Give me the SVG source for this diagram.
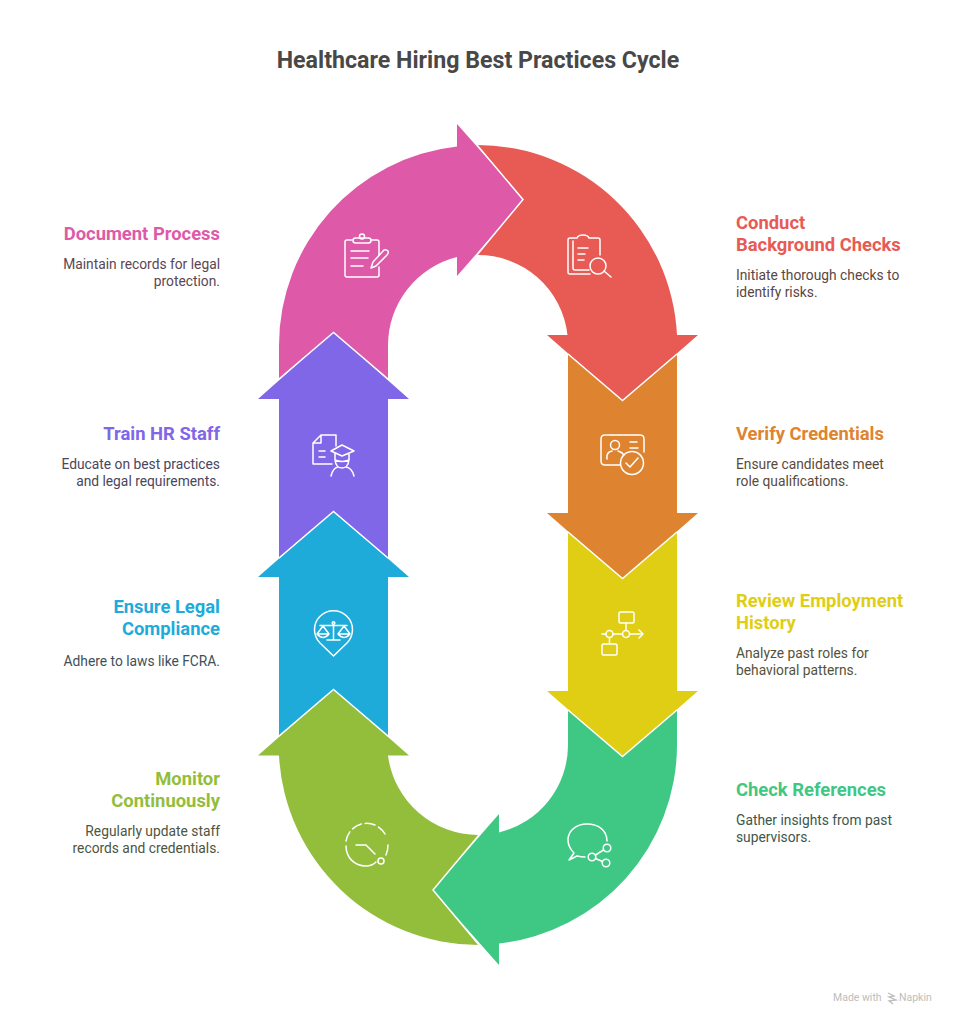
<svg xmlns="http://www.w3.org/2000/svg" width="956" height="1024" viewBox="0 0 956 1024">
<style>
text{font-family:Roboto,"Liberation Sans",sans-serif}
.title{font-size:23.200px;font-weight:700;fill:#484848;text-anchor:middle}
.h{font-size:18.400px;font-weight:700}
.b{font-size:13.800px}
.l{text-anchor:end}
.gap{fill:none;stroke:#fff;stroke-width:1.500;stroke-linejoin:miter}
.ic{fill:none;stroke:#fff;stroke-width:1.500;stroke-linecap:round;stroke-linejoin:round}
</style>
<rect width="956" height="1024" fill="#fff"/>
<text class="title" x="478" y="68">Healthcare Hiring Best Practices Cycle</text>
<g id="connectors">
<path id="seg-red" fill="#E85A54" d="M477 145A200 200 0 0 1 677 335H698L622.500 401L547 335H567.500A90 90 0 0 0 477 255L523 199.500Z"/>
<path id="seg-orange" fill="#DE8431" d="M568 354L622.500 400L677 354V513H698L622.500 579L547 513H568Z"/>
<path id="seg-yellow" fill="#E0CE15" d="M568 532L622.500 578L677 532V691H698L622.500 757L547 691H568Z"/>
<path id="seg-green" fill="#3FC784" d="M568 710L622.500 756L677 710V745A200 200 0 0 1 499 943.500V965L432.500 890L499 814V832.500A90 90 0 0 0 568 745Z"/>
<path id="seg-olive" fill="#93BE3B" d="M479 945A200 200 0 0 1 279 755.500H258L333.500 689L409 755.500H388A91 91 0 0 0 479 835L433 890Z"/>
<path id="seg-blue" fill="#1EABDA" d="M279 736L333.500 690L388 736V577H409L333.500 511L258 577H279Z"/>
<path id="seg-purple" fill="#8067E8" d="M279 558L333.500 512L388 558V399H409L333.500 332L258 399H279Z"/>
<path id="seg-pink" fill="#DE5AA8" d="M279 379L333.500 333L388 379V345A91 91 0 0 1 457 257V276L524 199.500L457 124V146.500A200 200 0 0 0 279 345Z"/>
<path class="gap" d="M477 145L523 199.500L477 255"/>
<path class="gap" d="M568 354L622.500 400.500L677 354"/>
<path class="gap" d="M568 532L622.500 578.500L677 532"/>
<path class="gap" d="M568 710L622.500 756.500L677 710"/>
<path class="gap" d="M479 835L433 890L479 945"/>
<path class="gap" d="M279 736L333.500 689.500L388 736"/>
<path class="gap" d="M279 558L333.500 511.500L388 558"/>
<path class="gap" d="M279 379L333.500 332.500L388 379"/>
</g>
<g id="node-document">
<g class="ic"><path d="M353 240H347Q345 240 345 242V275Q345 277 347 277H377Q379 277 379 275V267M379 255V242Q379 240 377 240H371"/><rect x="353" y="238" width="18" height="5" rx="2.500"/><circle cx="362" cy="236.500" r="2.500"/><path d="M351 251H369M351 258H368M351 266H363M371 268L373 262L384 250Q386 249 388 251Q389 253 387 255L376 266Z"/></g>
<text class="h l" x="220" y="240" fill="#DE5AA8">Document Process</text>
<text class="b l" fill="#5B4654"><tspan x="220" y="269">Maintain records for legal</tspan><tspan x="220" y="286">protection.</tspan></text>
</g>
<g id="node-background">
<g class="ic"><path d="M577 238H570Q568 238 568 240V272Q568 274 570 274H590M577 238Q578 235 583 235Q588 235 589 238H598Q600 238 600 240V255M573 241V268Q573 270 575 270H589M578 248H588M578 254H585M578 260H584"/><circle cx="598" cy="266" r="8"/><path d="M604 271L611 277"/></g>
<text class="h" fill="#E85A54"><tspan x="736" y="229">Conduct</tspan><tspan x="736" y="251">Background Checks</tspan></text>
<text class="b" fill="#5B4644"><tspan x="736" y="280">Initiate thorough checks to</tspan><tspan x="736" y="297">identify risks.</tspan></text>
</g>
<g id="node-credentials">
<g class="ic"><path d="M620 465H605Q601 465 601 461V439Q601 435 605 435H640Q644 435 644 439V452"/><circle cx="615" cy="445" r="4.500"/><path d="M607 459Q606 452 612 451M618 451Q622 452 624 455M630 442H637M630 448H638"/><circle cx="632" cy="463" r="11.500"/><path d="M626 463L630 467L638 458"/></g>
<text class="h" x="736" y="440" fill="#DE8431">Verify Credentials</text>
<text class="b" fill="#5B4A3A"><tspan x="736" y="469">Ensure candidates meet</tspan><tspan x="736" y="486">role qualifications.</tspan></text>
</g>
<g id="node-employment">
<g class="ic"><rect x="619" y="612" width="15" height="11" rx="1.500"/><circle cx="609.500" cy="634" r="3.500"/><circle cx="626" cy="634" r="3.500"/><path d="M602 634H606M613 634H622.500M629.500 634H643M639 630L643 634L639 638M626 623V630.500M609.500 637.500V644"/><rect x="602" y="644" width="15" height="11" rx="1.500"/></g>
<text class="h" fill="#E0CE15"><tspan x="736" y="607">Review Employment</tspan><tspan x="736" y="629">History</tspan></text>
<text class="b" fill="#55523A"><tspan x="736" y="658">Analyze past roles for</tspan><tspan x="736" y="675">behavioral patterns.</tspan></text>
</g>
<g id="node-references">
<g class="ic"><path d="M607 841C607 830 598 824 587 824C576 824 568 831 568 840C568 846 571 850 574 853L569 860L577 856Q581 857 585 857"/><circle cx="607" cy="848" r="3.800"/><circle cx="592" cy="857" r="3.800"/><circle cx="606" cy="863" r="3.800"/><path d="M595.500 855L603.500 850M595.500 858.500L602.500 861.500"/></g>
<text class="h" x="736" y="796" fill="#3FC784">Check References</text>
<text class="b" fill="#40564B"><tspan x="736" y="825">Gather insights from past</tspan><tspan x="736" y="842">supervisors.</tspan></text>
</g>
<g id="node-monitor">
<g class="ic"><path stroke-dasharray="10 4" d="M346 841A21 21 0 0 1 385 834"/><path d="M388 845Q388 850 386 855M376 862Q372 866 366 866C354 866 346 857 346 846"/><path d="M356 845H366L375 854"/><circle cx="381" cy="861" r="3"/></g>
<text class="h l" fill="#93BE3B"><tspan x="220" y="785">Monitor</tspan><tspan x="220" y="807">Continuously</tspan></text>
<text class="b l" fill="#4E5540"><tspan x="220" y="836">Regularly update staff</tspan><tspan x="220" y="853">records and credentials.</tspan></text>
</g>
<g id="node-compliance">
<g class="ic"><path d="M333.500 656L320 643A19 19 0 1 1 347 643Z"/><circle cx="333.500" cy="623" r="1.300"/><path d="M320 625.500H347M333.500 625V640M327 640H340M323 626L317 634H329ZM344 626L338 634H350ZM317 634Q323 641 329 634M338 634Q344 641 350 634"/></g>
<text class="h l" fill="#1EABDA"><tspan x="220" y="613">Ensure Legal</tspan><tspan x="220" y="635">Compliance</tspan></text>
<text class="b l" x="220" y="666" fill="#3E5058">Adhere to laws like FCRA.</text>
</g>
<g id="node-train">
<g class="ic"><path d="M336 446V435H321L313 443V464H332M321 435V443H313M319 451H325M319 457H325"/><path d="M342 445L354 451L342 456L331 451ZM335 453V460M349 454V460Q342 463 335 460M335 460Q336 468 342 468Q348 468 349 460M331 476Q333 468 338 467M354 476Q352 468 346 467"/></g>
<text class="h l" x="220" y="440" fill="#8067E8">Train HR Staff</text>
<text class="b l" fill="#4A4660"><tspan x="220" y="469">Educate on best practices</tspan><tspan x="220" y="486">and legal requirements.</tspan></text>
</g>
<g id="napkin-mark">
<text x="833" y="1001" font-size="10.500" fill="#bdbdbd">Made with</text>
<path d="M888 993L894 996L889 997L896 1000L889 1001L893 1004" fill="none" stroke="#bdbdbd" stroke-width="1.300"/>
<text x="899" y="1001" font-size="10.500" fill="#bdbdbd">Napkin</text>
</g>
</svg>
